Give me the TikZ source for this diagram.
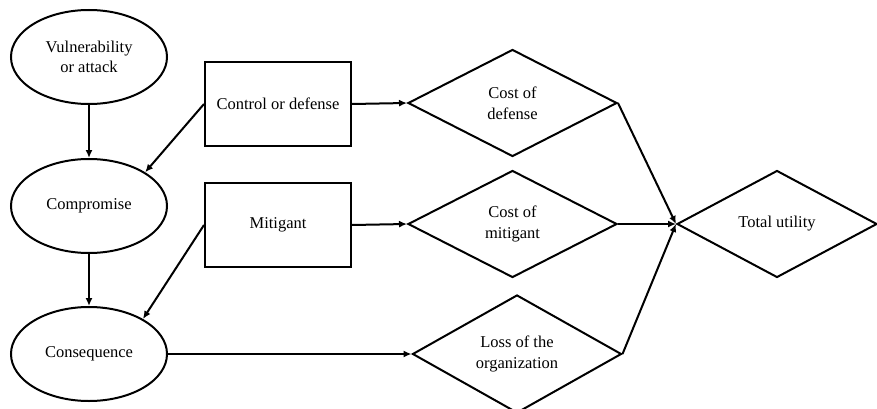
\documentclass[tikz,border=0pt]{standalone}
\usepackage{fontspec}
\setmainfont{Liberation Serif}
\usetikzlibrary{shapes.geometric,arrows.meta}
\begin{document}
\begin{tikzpicture}[x=1pt,y=-1pt,
  every node/.style={font=\fontsize{16.5}{20.7}\selectfont, align=center, line width=2pt, draw, inner sep=0pt},
  oval/.style={ellipse, minimum width=156pt, minimum height=94pt},
  boxnode/.style={rectangle, minimum width=146pt, minimum height=84pt},
  gem/.style={diamond, minimum width=209pt, minimum height=107pt},
  link/.style={line width=2pt, -{Latex[length=8pt,width=7pt]}}]
\useasboundingbox (0,0) rectangle (877,409);

% chance nodes
\node[oval] (vul)  at (89,57)  {Vulnerability\\or attack};
\node[oval] (comp) at (89,206) {Compromise};
\node[oval] (cons) at (89,354) {Consequence};

% decision nodes
\node[boxnode] (ctrl) at (278,104) {Control or defense};
\node[boxnode] (miti) at (278,225) {Mitigant};

% value nodes
\node[gem] (cdef)  at (512.5,103) {Cost of\\defense};
\node[gem] (cmit)  at (512.5,224) {Cost of\\mitigant};
\node[gem] (loss)  at (517,354)   {Loss of the\\organization};
\node[gem, minimum width=200pt] (total) at (777,224) {Total utility};

% influences
\draw[link] (vul) -- (comp);
\draw[link] (comp) -- (cons);
\draw[link] (ctrl.west) -- (comp.31);
\draw[link] (miti.west) -- (cons.33);
\draw[link] (ctrl.east) -- (cdef.west);
\draw[link] (miti.east) -- (cmit.west);
\draw[link] (cons.east) -- (loss.west);
\draw[link] (cdef.east) -- (total.west);
\draw[link] (cmit.east) -- (total.west);
\draw[link] (loss.east) -- (total.west);
\end{tikzpicture}
\end{document}
